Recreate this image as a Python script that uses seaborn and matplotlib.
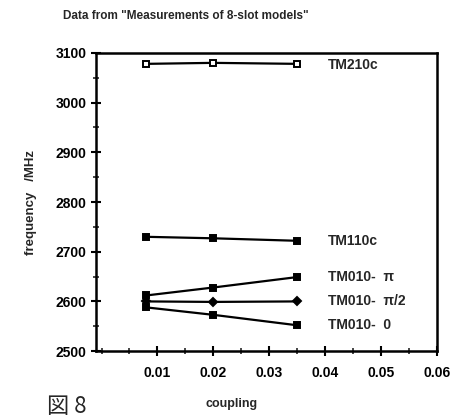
import matplotlib
matplotlib.use("Agg")
import matplotlib.pyplot as plt
import seaborn as sns
import pandas as pd
from matplotlib.ticker import MultipleLocator

coupling = [0.008, 0.020, 0.035]
tm210c = [3078, 3080, 3078]
tm110c = [2730, 2727, 2722]
tm010_pi = [2612, 2628, 2649]
tm010_pi2 = [2600, 2599, 2600]
tm010_0 = [2588, 2573, 2552]

series_names = ["TM210c", "TM110c", "TM010-  \u03c0", "TM010-  \u03c0/2", "TM010-  0"]
series_values = [tm210c, tm110c, tm010_pi, tm010_pi2, tm010_0]
x_ticks = [0.01, 0.02, 0.03, 0.04, 0.05, 0.06]
y_ticks = [2500, 2600, 2700, 2800, 2900, 3000, 3100]

sns.set_theme(style="white")
plt.rcParams['font.family'] = ['Liberation Sans', 'DejaVu Sans']

fig = plt.figure(figsize=(4.59, 4.2), dpi=100)
ax = fig.add_axes([0.209, 0.164, 0.743, 0.710])

markers = ["s", "s", "s", "D", "s"]
for name, vals, m in zip(series_names, series_values, markers):
    df = pd.DataFrame({"coupling": coupling, "freq": vals})
    open_m = name == "TM210c"
    sns.lineplot(data=df, x="coupling", y="freq", ax=ax, color="black",
                 linewidth=1.6, marker=m, markersize=4.3 if m == "s" else 4,
                 markerfacecolor="white" if open_m else "black",
                 markeredgecolor="black", markeredgewidth=1.4)
    ax.text(0.0405, vals[-1] - (3 if name.startswith("TM2") else 0), name,
            fontsize=10, fontweight="bold", va="center", ha="left")

ax.set_xlim(-0.001, 0.06)
ax.set_ylim(2500, 3100)
ax.set_xticks(x_ticks)
ax.set_xticklabels([f"{t:.2f}" for t in x_ticks])
ax.set_yticks(y_ticks)
ax.xaxis.set_minor_locator(MultipleLocator(0.005))
ax.yaxis.set_minor_locator(MultipleLocator(50))
ax.tick_params(axis="both", which="major", direction="inout", length=7, width=1.5,
               labelsize=10, colors="black")
ax.tick_params(axis="x", which="major", pad=7)
ax.tick_params(axis="both", which="minor", direction="inout", length=4, width=1.2)
ax.tick_params(axis="both", which="both", bottom=True, left=True)
for lab in ax.get_xticklabels() + ax.get_yticklabels():
    lab.set_fontweight("bold")
for s in ax.spines.values():
    s.set_linewidth(1.8)
    s.set_color("black")

ax.set_xlabel("")
ax.set_ylabel("frequency   /MHz", fontsize=9.5, fontweight="bold", labelpad=13)

fig.text(0.405, 0.962, 'Data from "Measurements of 8-slot models"', fontsize=8.5,
         fontweight="bold", ha="center", va="center")
fig.text(0.505, 0.038, "coupling", fontsize=9, fontweight="bold", ha="center", va="center")
fig.text(0.145, 0.033, "図 8", fontsize=16, ha="center", va="center",
         family=["Noto Sans CJK JP", "DejaVu Sans"])

fig.savefig("out.png", dpi=100)
